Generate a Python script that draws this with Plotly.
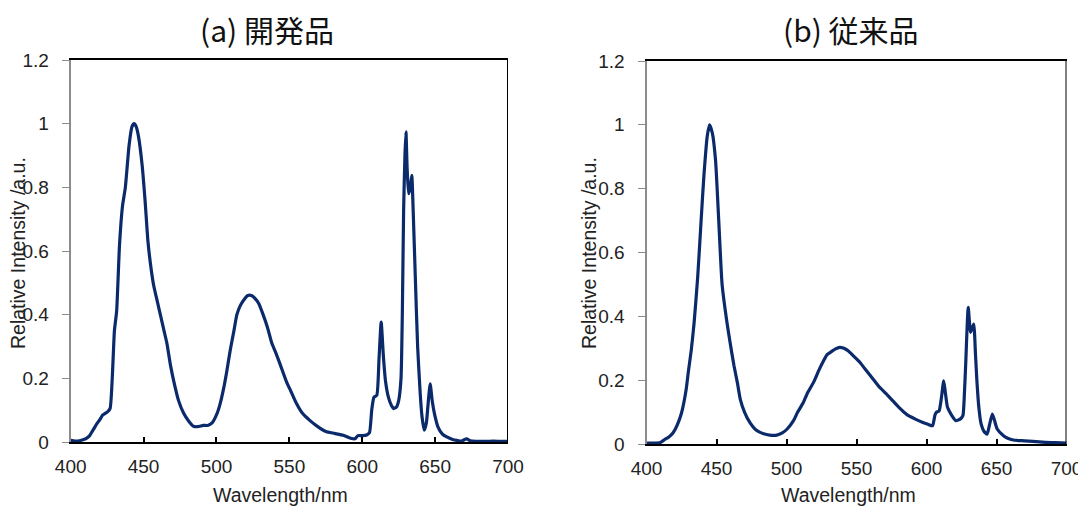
import plotly.graph_objects as go

# ---- data ----
wl_a = [400, 403, 406, 409, 411, 413, 415, 418, 420, 422, 425, 427, 428.5, 430, 431.5, 433.5, 435.5, 437.5,
        440, 442, 443.5, 445, 446.5, 449, 451, 453, 455, 457, 459.5, 461.5, 464, 466, 468.5, 471, 474, 477.5,
        481, 484, 487, 491, 494, 497, 500, 502.5, 505, 507, 509.5, 512, 514, 516.5, 519, 521.5, 524, 527,
        529, 532, 535, 538, 541, 544, 548, 551, 555, 559, 564, 569, 575, 581, 587, 592, 595, 597, 600, 603,
        605, 606.5, 608, 610, 611.5, 613, 614.5, 616, 618, 620, 621.6, 623.5, 625, 626.6, 627.5, 628.4, 629.3,
        630, 630.8, 631.8, 633, 634, 635, 636.4, 638, 639.8, 641, 642.5, 644, 645, 646.6, 648, 649.5, 652,
        655, 658, 662, 665, 668, 671.6, 674, 678, 685, 690, 695, 700]
int_a = [0.005, 0.003, 0.004, 0.008, 0.012, 0.02, 0.035, 0.058, 0.07, 0.085, 0.094, 0.105, 0.2, 0.35, 0.41,
         0.62, 0.74, 0.80, 0.93, 0.99, 1.0, 0.99, 0.96, 0.87, 0.76, 0.63, 0.55, 0.49, 0.44, 0.40, 0.35, 0.31,
         0.24, 0.185, 0.13, 0.09, 0.065, 0.05, 0.048, 0.052, 0.052, 0.06, 0.085, 0.12, 0.17, 0.22, 0.29, 0.35,
         0.40, 0.43, 0.448, 0.46, 0.46, 0.448, 0.435, 0.40, 0.36, 0.31, 0.277, 0.24, 0.19, 0.16, 0.12, 0.09,
         0.068, 0.05, 0.033, 0.027, 0.021, 0.012, 0.01, 0.02, 0.02, 0.022, 0.03, 0.1, 0.14, 0.147, 0.26, 0.377,
         0.27, 0.19, 0.14, 0.115, 0.105, 0.11, 0.13, 0.2, 0.4, 0.73, 0.9, 0.974, 0.86, 0.78, 0.80, 0.838, 0.72,
         0.52, 0.3, 0.15, 0.08, 0.037, 0.06, 0.11, 0.183, 0.13, 0.09, 0.047, 0.025, 0.016, 0.008, 0.005, 0.003,
         0.01, 0.004, 0.002, 0.002, 0.003, 0.002, 0.002]

wl_b = [400, 405, 410, 413, 416, 419, 422, 425, 428.3, 430, 432, 434, 436.6, 439, 441, 443.4, 445, 447, 449.3,
        451.6, 454, 457.5, 460, 462.5, 465, 467, 470, 474, 478, 483.7, 488, 493, 497, 500.5, 505, 508, 512,
        515, 519.3, 523, 526.4, 529, 532.3, 535, 538, 541, 544, 548, 552.4, 557, 561.8, 566, 571.3, 576, 580.7,
        586, 592, 597, 601, 604.3, 606, 607, 609, 610.5, 612.3, 613.5, 615, 618, 621, 624, 626, 627, 628,
        629.8, 631.5, 633.7, 635, 636, 637.5, 639, 641, 643.3, 645, 647, 648.5, 650.5, 655, 658, 662, 670,
        676, 685, 692, 700]
int_b = [0.003, 0.003, 0.005, 0.014, 0.022, 0.035, 0.06, 0.097, 0.17, 0.23, 0.295, 0.38, 0.525, 0.70, 0.84,
         0.965, 1.0, 0.975, 0.89, 0.70, 0.50, 0.38, 0.31, 0.245, 0.19, 0.14, 0.10, 0.066, 0.045, 0.032, 0.028,
         0.028, 0.035, 0.047, 0.073, 0.10, 0.13, 0.16, 0.193, 0.23, 0.26, 0.28, 0.29, 0.298, 0.303, 0.30, 0.292,
         0.275, 0.256, 0.23, 0.204, 0.18, 0.157, 0.135, 0.113, 0.092, 0.078, 0.068, 0.062, 0.057, 0.09, 0.099,
         0.104, 0.14, 0.198, 0.16, 0.115, 0.09, 0.073, 0.078, 0.089, 0.15, 0.25, 0.428, 0.35, 0.376, 0.28,
         0.198, 0.11, 0.063, 0.04, 0.031, 0.06, 0.094, 0.075, 0.047, 0.026, 0.018, 0.0125, 0.01, 0.008, 0.005,
         0.004, 0.003]

x_ticks = [400, 450, 500, 550, 600, 650, 700]
y_ticks = [0, 0.2, 0.4, 0.6, 0.8, 1.0, 1.2]
y_ticktext = ["0", "0.2", "0.4", "0.6", "0.8", "1", "1.2"]
titles = ["(a) 開発品", "(b) 従来品"]
x_title = "Wavelength/nm"
y_title = "Relative Intensity /a.u."

# the page body has an 8 px default margin, so the figure is drawn 8 px in
OFF = 8
W, H = 1086 - OFF, 511 - OFF
LINE = "#0b2a6b"
FONT = "Liberation Sans, Arial, sans-serif"
JFONT = "Noto Sans CJK JP, Liberation Sans, sans-serif"


def px(x):
    return (x - OFF) / W


def py(y):
    return 1 - (y - OFF) / H


fig = go.Figure()
fig.add_trace(go.Scatter(x=wl_a, y=int_a, mode="lines",
                         line=dict(color=LINE, width=3.2, shape="spline", smoothing=0.5),
                         xaxis="x", yaxis="y", showlegend=False))
fig.add_trace(go.Scatter(x=wl_b, y=int_b, mode="lines",
                         line=dict(color=LINE, width=3.2, shape="spline", smoothing=0.5),
                         xaxis="x2", yaxis="y2", showlegend=False))

# panel geometry in page pixels: (left, right, top, bottom)
panels = [(70.7, 508, 60, 442), (646.5, 1066.5, 61, 444)]
title_cx = [267, 851]
xtitle_cx = [280, 848]
ytitle_cx = [18, 589]

xa = dict(range=[400, 700], tickvals=x_ticks, ticks="inside", ticklen=5, tickwidth=1.5,
          tickcolor="black", showline=True, linecolor="black", linewidth=2, mirror=True,
          showgrid=False, zeroline=False, automargin=False, ticklabelstandoff=6,
          tickfont=dict(family=FONT, size=19, color="#222"))
ya = dict(range=[0, 1.2], tickvals=y_ticks, ticktext=y_ticktext, ticks="outside", ticklen=7,
          tickwidth=1.2, tickcolor="#8c8c8c", showline=True, linecolor="#8c8c8c", linewidth=2,
          mirror=False, showgrid=False, zeroline=False, automargin=False, ticklabelstandoff=9,
          tickfont=dict(family=FONT, size=19, color="#222"))

layout = dict(width=W, height=H, margin=dict(l=0, r=0, t=0, b=0),
              plot_bgcolor="white", paper_bgcolor="white")
shapes = []
annotations = []
for i, (l, r, t, b) in enumerate(panels):
    sx = "" if i == 0 else str(i + 1)
    layout["xaxis" + sx] = dict(xa, domain=[px(l), px(r)], anchor="y" + sx)
    layout["yaxis" + sx] = dict(ya, domain=[py(b), py(t)], anchor="x" + sx)
    shapes.append(dict(type="line", xref="x" + sx, yref="y" + sx + " domain", x0=700, x1=700,
                       y0=0, y1=1, line=dict(color="black", width=2)))
    annotations.append(dict(text=titles[i], x=px(title_cx[i]), y=py(29), xref="paper", yref="paper",
                            showarrow=False, borderpad=0, font=dict(family=JFONT, size=30, color="#111"),
                            xanchor="center", yanchor="middle"))
    annotations.append(dict(text=x_title, x=px(xtitle_cx[i]), y=py(495), xref="paper", yref="paper",
                            showarrow=False, font=dict(family=FONT, size=19.5, color="#222"),
                            xanchor="center", yanchor="middle"))
    annotations.append(dict(text=y_title, x=px(ytitle_cx[i]), y=py(253), xref="paper", yref="paper",
                            showarrow=False, textangle=-90, font=dict(family=FONT, size=19.5, color="#222"),
                            xanchor="center", yanchor="middle"))
layout["shapes"] = shapes
layout["annotations"] = annotations
fig.update_layout(**layout)

fig.write_html("out.html")
